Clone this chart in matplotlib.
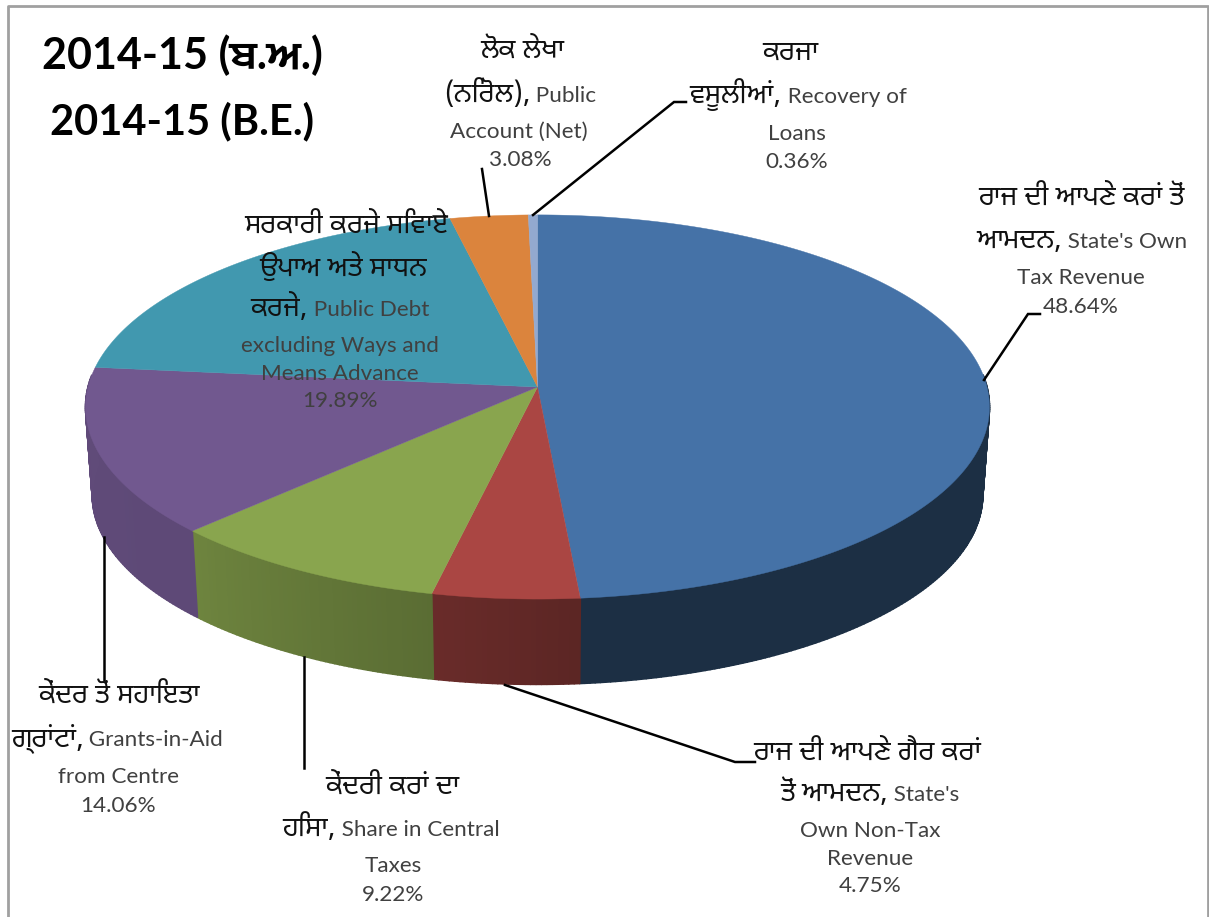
import re
import numpy as np
import matplotlib
matplotlib.use("Agg")
import matplotlib.pyplot as plt
from matplotlib.collections import PolyCollection
from matplotlib.colors import to_rgb

# ---- data ----
shares = [48.64, 4.75, 9.22, 14.06, 19.89, 3.08, 0.36]
top_colors = ["#4572A7", "#AA4643", "#89A54E", "#71588F", "#4198AF", "#DB843D", "#93A9CF"]
side_shade_start = [0.41, 0.54, 0.66, 0.83, 0.8, 0.8, 0.8]
side_shade_end = [0.41, 0.62, 0.80, 0.85, 0.8, 0.8, 0.8]
title_lines = ["2014-15 (ਬ.ਅ.)", "2014-15 (B.E.)"]
label_lines = [
    ["ਰਾਜ ਦੀ ਆਪਣੇ ਕਰਾਂ ਤੋਂ", "ਆਮਦਨ, State's Own", "Tax Revenue", "48.64%"],
    ["ਰਾਜ ਦੀ ਆਪਣੇ ਗੈਰ ਕਰਾਂ", "ਤੋਂ ਆਮਦਨ, State's", "Own Non-Tax", "Revenue", "4.75%"],
    ["ਕੇਂਦਰੀ ਕਰਾਂ ਦਾ", "ਹਿਸਾ, Share in Central", "Taxes", "9.22%"],
    ["ਕੇਂਦਰ ਤੋਂ ਸਹਾਇਤਾ", "ਗ੍ਰਾਂਟਾਂ, Grants-in-Aid", "from Centre", "14.06%"],
    ["ਸਰਕਾਰੀ ਕਰਜੇ ਸਿਵਾਏ", "ਉਪਾਅ ਅਤੇ ਸਾਧਨ", "ਕਰਜੇ, Public Debt", "excluding Ways and", "Means Advance", "19.89%"],
    ["ਲੋਕ ਲੇਖਾ", "(ਨਿਰੋਲ), Public", "Account (Net)", "3.08%"],
    ["ਕਰਜਾ", "ਵਸੂਲੀਆਂ, Recovery of", "Loans", "0.36%"],
]

# ---- layout (pixel-like axes coordinates) ----
label_x = [
    [1081, 1082, 1081, 1081],
    [867, 870, 870, 870, 870],
    [392, 391, 393, 393],
    [119, 117, 118, 118],
    [346, 343, 340, 340, 340, 340],
    [522, 520, 519, 520],
    [790, 798, 797, 797],
]
label_y = [
    [197, 240, 276, 305],
    [752, 793, 829, 857, 884],
    [786, 828, 864, 893],
    [695, 738, 775, 804],
    [225, 268, 308, 344, 372, 399],
    [50, 94, 130, 158],
    [52, 95, 132, 160],
]
leaders = [
    ([1040, 1028, 984], [314, 314, 380]),
    ([505, 735, 755], [685, 762, 762]),
    ([304, 304], [657, 768]),
    ([104, 104], [537, 680]),
    ([482, 489], [169, 216]),
    ([533, 674, 686], [215, 102, 102]),
]

LATIN = ["Lato", "DejaVu Sans"]
GURMUKHI = ["Noto Sans Gurmukhi", "DejaVu Sans"]
TITLE = ["Lato", "Mukta Mahee", "DejaVu Sans"]
plt.rcParams["font.family"] = LATIN

fig = plt.figure(figsize=(12.09, 9.17), dpi=100, facecolor="white")
ax = fig.add_axes([0, 0, 1, 1])
ax.set_xlim(0, 1209)
ax.set_ylim(917, 0)
ax.axis("off")

CX, CY = 537.5, 387.0
A, B, K = 449.5, 190.0, 0.104


def rim(theta, scale=1.0, drop=0.0):
    u, v = np.cos(theta), np.sin(theta)
    w = 1 + K * v
    return CX + scale * A * u / w, CY - scale * B * v / w + drop


boundaries = np.cumsum([0] + shares) / sum(shares)
angles = np.pi / 2 - 2 * np.pi * boundaries

# outer wall first
for i in range(len(shares)):
    ts = np.linspace(angles[i], angles[i + 1], max(4, int(shares[i] * 6)))
    base = np.array(to_rgb(top_colors[i]))
    polys, cols = [], []
    n = len(ts) - 1
    for j in range(n):
        t0, t1 = ts[j], ts[j + 1]
        if np.sin(t0) > 0.06 and np.sin(t1) > 0.06:
            continue
        x0, y0 = rim(t0)
        x1, y1 = rim(t1)
        x2, y2 = rim(t1, 0.985, 88.5)
        x3, y3 = rim(t0, 0.985, 88.5)
        polys.append([(x0, y0), (x1, y1), (x2, y2), (x3, y3)])
        f = j / max(n - 1, 1)
        cols.append(base * (side_shade_start[i] * (1 - f) + side_shade_end[i] * f))
    if polys:
        ax.add_collection(PolyCollection(polys, facecolors=cols, edgecolors=cols,
                                         linewidths=1.2, zorder=2))

# top face
for i in range(len(shares)):
    ts = np.linspace(angles[i], angles[i + 1], max(6, int(shares[i] * 8)))
    xs, ys = rim(ts)
    ax.fill(np.r_[CX, xs], np.r_[CY, ys], color=top_colors[i], lw=0.3, zorder=3)

# leader lines
for lx, ly in leaders:
    ax.plot(lx, ly, color="black", lw=1.8, zorder=4, solid_joinstyle="miter")

# labels: Gurmukhi and Latin runs have their own size and colour, centred as one line
renderer = fig.canvas.get_renderer()


def split_runs(line):
    m = re.match(r"^(.*[\u0A00-\u0A7F][^ ]*)(.*)$", line)
    return (m.group(1), m.group(2)) if m else ("", line)


def draw_line(line, x, y):
    gur, lat = split_runs(line)
    base = y + 8
    items = []
    if gur:
        items.append(ax.text(0, base, gur, family=GURMUKHI, fontsize=19.8, color="#111111",
                             ha="left", va="baseline", zorder=5))
    if lat:
        items.append(ax.text(0, base, lat.replace(" ", "\u00a0"), family=LATIN, fontsize=16.2,
                             color="#404040", ha="left", va="baseline", zorder=5))
    widths = [t.get_window_extent(renderer).width for t in items]
    cur = x - sum(widths) / 2
    for t, w in zip(items, widths):
        t.set_x(cur)
        cur += w


for lines, xs, ys in zip(label_lines, label_x, label_y):
    for line, x, y in zip(lines, xs, ys):
        draw_line(line, x, y)

ax.text(182, 69, title_lines[0], ha="center", va="baseline", fontsize=31, family=TITLE,
        fontweight="bold", color="black", zorder=5)
ax.text(182, 134, title_lines[1], ha="center", va="baseline", fontsize=30, family=TITLE,
        fontweight="bold", color="black", zorder=5)

# chart frame
ax.plot([8, 8, 1208, 1208], [917, 6, 6, 917], color="#A0A0A0", lw=2, zorder=1)

fig.savefig("out.png", dpi=100, facecolor="white")
